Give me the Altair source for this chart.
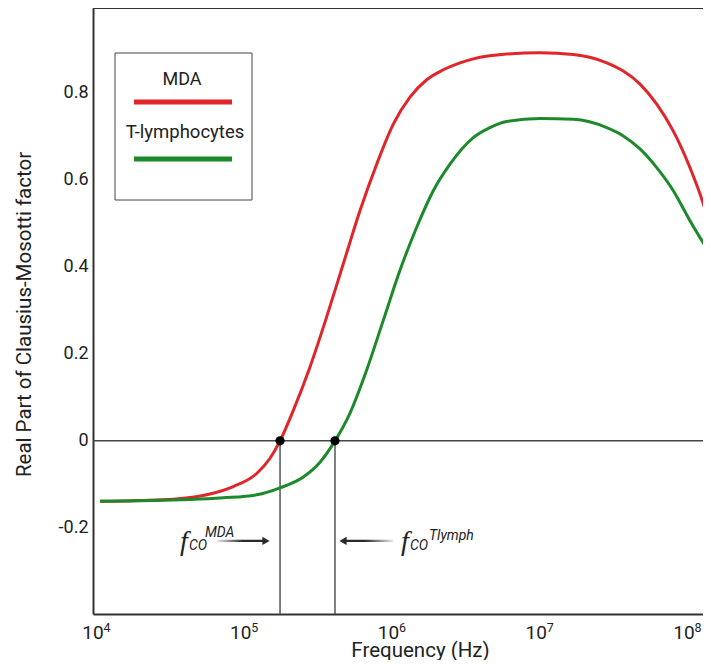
import altair as alt
import pandas as pd

# ---------------- data ----------------
series_names = ["MDA", "T-lymphocytes"]
series_colors = ["#e0252b", "#1c8a2b"]

mda_freq_hz = [1.115e4, 2.080e4, 3.495e4, 5.88e4, 8.90e4, 1.282e5, 1.578e5, 1.845e5, 2.269e5, 2.943e5,
               3.816e5, 4.944e5, 6.41e5, 8.32e5, 1.078e6, 1.398e6, 1.813e6, 2.349e6, 3.047e6, 3.749e6,
               6.31e6, 1.060e7, 1.781e7, 3.000e7, 3.885e7, 5.04e7, 6.54e7, 8.47e7, 1.098e8, 1.351e8, 1.50e8]
mda_re_cm = [-0.139, -0.137, -0.134, -0.124, -0.105, -0.075, -0.040, 0.0, 0.070, 0.170,
             0.285, 0.407, 0.529, 0.636, 0.728, 0.790, 0.830, 0.853, 0.869, 0.878,
             0.889, 0.892, 0.888, 0.869, 0.850, 0.820, 0.774, 0.712, 0.628, 0.545, 0.491]

tly_freq_hz = [1.115e4, 4.53e4, 7.62e4, 1.282e5, 1.845e5, 2.651e5, 3.439e5, 4.344e5, 5.49e5, 7.12e5,
               9.22e5, 1.196e6, 1.552e6, 2.010e6, 2.608e6, 3.749e6, 4.86e6, 6.31e6, 1.060e7,
               1.781e7, 3.000e7, 3.885e7, 5.04e7, 6.54e7, 8.47e7, 1.098e8, 1.50e8]
tly_re_cm = [-0.139, -0.135, -0.131, -0.124, -0.108, -0.083, -0.049, 0.0, 0.064, 0.163,
             0.277, 0.392, 0.491, 0.575, 0.636, 0.697, 0.720, 0.734, 0.741,
             0.739, 0.720, 0.701, 0.671, 0.628, 0.575, 0.506, 0.430]

crossover_freq_hz = [1.845e5, 4.344e5]

x_tick_values = [1e4, 1e5, 1e6, 1e7, 1e8]
x_tick_base = ["10", "10", "10", "10", "10"]
x_tick_exp = ["4", "5", "6", "7", "8"]
y_tick_values = [-0.2, 0, 0.2, 0.4, 0.6, 0.8]

ann_sup = ["MDA", "Tlymph"]
ann_f_freq = [3.88e4, 1.215e6]
ann_y = [-0.25, -0.25]
arrow_from = [6.91e4, 1.073e6]     # tail (faded end)
arrow_to = [1.437e5, 4.845e5]      # end at arrowhead
arrow_head_freq = [1.482e5, 4.92e5]
arrow_head_shape = ["triangle-right", "triangle-left"]
arrow_y = [-0.23, -0.23]

X_DOMAIN = [1e4, 1.345e8]
Y_DOMAIN = [-0.398, 0.995]

W, H = 610, 606
FONT = "Roboto"
AX = "#333333"
SHAFT_HALF = 0.0024

# ---------------- frames ----------------
curves = pd.concat([
    pd.DataFrame({"f": mda_freq_hz, "cm": mda_re_cm, "series": series_names[0]}),
    pd.DataFrame({"f": tly_freq_hz, "cm": tly_re_cm, "series": series_names[1]}),
])
cross = pd.DataFrame({"f": crossover_freq_hz, "y0": [0.0, 0.0], "ybot": [Y_DOMAIN[0]] * 2})
xt = pd.DataFrame({"f": x_tick_values, "base": x_tick_base, "exp": x_tick_exp,
                   "y": [Y_DOMAIN[0]] * len(x_tick_values)})
heads_df = pd.DataFrame({"h": arrow_head_freq, "y": arrow_y, "shape": arrow_head_shape})
ann = pd.DataFrame({"f": ann_f_freq, "y": ann_y, "sup": ann_sup, "fl": ["f", "f"], "co": ["CO", "CO"]})

xs = alt.Scale(type="log", domain=X_DOMAIN, nice=False)
ys = alt.Scale(domain=Y_DOMAIN, nice=False, zero=False)

x_axis = alt.Axis(values=x_tick_values, labels=False, ticks=False, grid=False,
                  domainColor=AX, domainWidth=2, title="Frequency (Hz)",
                  titleFont=FONT, titleFontSize=20.5, titleFontWeight="normal", titleColor="#222",
                  titleX=327, titleY=42, titleBaseline="alphabetic", titleAlign="center")
y_axis = alt.Axis(values=y_tick_values,
                  labelExpr="datum.value == 0 ? '0' : replace(format(datum.value, '.1f'), '\u2212', '-')",
                  ticks=False, grid=False, labelPadding=5, labelFont=FONT, labelFontSize=18,
                  labelColor="#222", domainColor=AX, domainWidth=2,
                  title="Real Part of Clausius-Mosotti factor", titleFont=FONT, titleFontSize=20.5,
                  titleFontWeight="normal", titleColor="#222", titleX=-63, titleY=306,
                  titleBaseline="alphabetic", titleAlign="center", titleAngle=270)

zero_line = alt.Chart(pd.DataFrame({"y": [0.0]})).mark_rule(color="#444", strokeWidth=1.5).encode(
    y=alt.Y("y:Q", scale=ys, axis=y_axis))

vlines = alt.Chart(cross).mark_rule(color="#555", strokeWidth=1.5).encode(
    x=alt.X("f:Q", scale=xs, axis=x_axis), y=alt.Y("y0:Q", scale=ys), y2="ybot:Q")

lines = alt.Chart(curves).mark_line(strokeWidth=3, interpolate="monotone", clip=True).encode(
    x=alt.X("f:Q", scale=xs),
    y=alt.Y("cm:Q", scale=ys),
    color=alt.Color("series:N", scale=alt.Scale(domain=series_names, range=series_colors), legend=None),
)

dots = alt.Chart(cross).mark_circle(size=85, color="black", opacity=1).encode(
    x=alt.X("f:Q", scale=xs), y=alt.Y("y0:Q", scale=ys))

top_border = alt.Chart(pd.DataFrame({"k": [0]})).mark_rule(color=AX, strokeWidth=2).encode(
    x=alt.value(0), x2=alt.value(W), y=alt.value(0))

# x tick labels 10^n
xl_base = alt.Chart(xt).mark_text(font=FONT, fontSize=19, color="#222", align="center",
                                  baseline="alphabetic", dy=25).encode(
    x=alt.X("f:Q", scale=xs), y=alt.Y("y:Q", scale=ys), text="base:N")
xl_exp = alt.Chart(xt).mark_text(font=FONT, fontSize=12.5, color="#222", align="left",
                                 baseline="alphabetic", dx=10.5, dy=18).encode(
    x=alt.X("f:Q", scale=xs), y=alt.Y("y:Q", scale=ys), text="exp:N")

# legend box
leg = pd.DataFrame({"name": series_names, "color": series_colors})
leg_box = alt.Chart(pd.DataFrame({"k": [0]})).mark_rect(fill="white", stroke="#444", strokeWidth=1).encode(
    x=alt.value(22), x2=alt.value(159), y=alt.value(45), y2=alt.value(192))
leg_t1 = alt.Chart(leg.iloc[[0]]).mark_text(font=FONT, fontSize=18, color="#222", align="center",
                                            baseline="alphabetic").encode(
    x=alt.value(89), y=alt.value(77), text="name:N")
leg_l1 = alt.Chart(leg.iloc[[0]]).mark_rule(strokeWidth=5, color=series_colors[0]).encode(
    x=alt.value(41), x2=alt.value(139), y=alt.value(94))
leg_t2 = alt.Chart(leg.iloc[[1]]).mark_text(font=FONT, fontSize=18.5, color="#222", align="center",
                                            baseline="alphabetic").encode(
    x=alt.value(92), y=alt.value(130), text="name:N")
leg_l2 = alt.Chart(leg.iloc[[1]]).mark_rule(strokeWidth=5, color=series_colors[1]).encode(
    x=alt.value(41), x2=alt.value(139), y=alt.value(151))


# annotation arrows: faded shafts (thin gradient bands) + heads
def shaft(i, fade_left):
    df = pd.DataFrame({"f": [arrow_from[i], arrow_to[i]],
                       "yt": [arrow_y[i] + SHAFT_HALF] * 2,
                       "yb": [arrow_y[i] - SHAFT_HALF] * 2})
    light, dark = "#e6e6e6", "#2a2a2a"
    stops = ([alt.GradientStop(color=light, offset=0), alt.GradientStop(color=dark, offset=0.55),
              alt.GradientStop(color=dark, offset=1)] if fade_left else
             [alt.GradientStop(color=dark, offset=0), alt.GradientStop(color=dark, offset=0.45),
              alt.GradientStop(color=light, offset=1)])
    grad = alt.Gradient(gradient="linear", stops=stops, x1=0, x2=1, y1=0.5, y2=0.5)
    return alt.Chart(df).mark_area(color=grad).encode(
        x=alt.X("f:Q", scale=xs), y=alt.Y("yt:Q", scale=ys), y2="yb:Q")


shaft_mda = shaft(0, fade_left=True)
shaft_tly = shaft(1, fade_left=False)
heads = alt.Chart(heads_df).mark_point(filled=True, size=70, color="#2a2a2a", opacity=1).encode(
    x=alt.X("h:Q", scale=xs), y=alt.Y("y:Q", scale=ys), shape=alt.Shape("shape:N", scale=None))

ann_f = alt.Chart(ann).mark_text(font="Liberation Serif", fontStyle="italic", fontSize=28,
                                 color="#222", align="left", baseline="alphabetic").encode(
    x=alt.X("f:Q", scale=xs), y=alt.Y("y:Q", scale=ys), text="fl:N")
ann_co = alt.Chart(ann).mark_text(font=FONT, fontStyle="italic", fontSize=14, color="#222",
                                  align="left", baseline="alphabetic", dx=9).encode(
    x=alt.X("f:Q", scale=xs), y=alt.Y("y:Q", scale=ys), text="co:N")
ann_sup1 = alt.Chart(ann.iloc[[0]]).mark_text(font=FONT, fontStyle="italic", fontSize=14, color="#222",
                                              align="left", baseline="alphabetic", dx=25, dy=-13).encode(
    x=alt.X("f:Q", scale=xs), y=alt.Y("y:Q", scale=ys), text="sup:N")
ann_sup2 = alt.Chart(ann.iloc[[1]]).mark_text(font=FONT, fontStyle="italic", fontSize=14, color="#222",
                                              align="left", baseline="alphabetic", dx=28, dy=-10).encode(
    x=alt.X("f:Q", scale=xs), y=alt.Y("y:Q", scale=ys), text="sup:N")

chart = alt.layer(
    zero_line, vlines, lines, dots, top_border, xl_base, xl_exp,
    leg_box, leg_l1, leg_l2, leg_t1, leg_t2,
    shaft_mda, shaft_tly, heads, ann_f, ann_co, ann_sup1, ann_sup2,
).properties(
    width=W, height=H,
    autosize=alt.AutoSizeParams(type="none"),
    padding={"left": 85, "top": 0, "right": 0, "bottom": 46},
    background="white",
).configure_view(stroke=None)

chart.save("out.html", embed_options={"renderer": "svg", "actions": False})
